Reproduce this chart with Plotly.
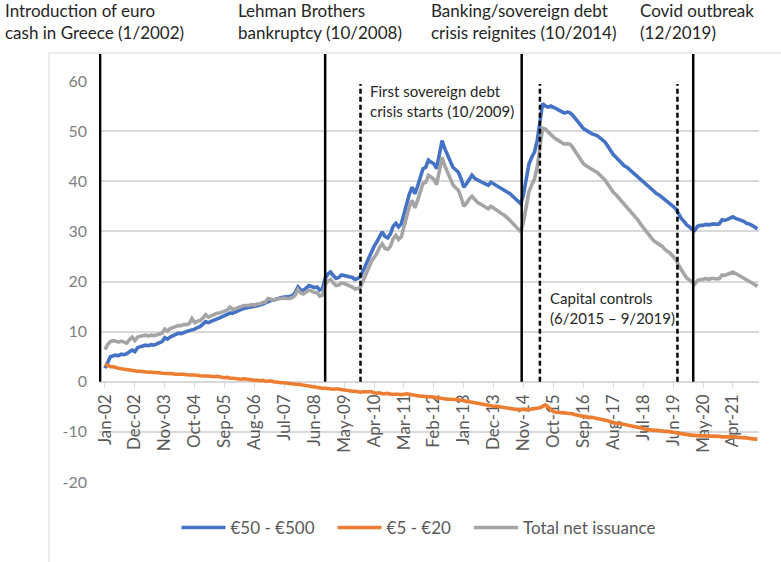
import pandas as pd
import plotly.graph_objects as go

# Monthly net issuance of euro banknotes in Greece (EUR bn), Jan-2002 onwards
BLUE = [
    2.7, 4.0, 5.0, 5.2, 5.3, 5.2, 5.5, 5.4, 5.6, 6.0, 6.3, 6.0,
    6.8, 7.0, 7.2, 7.3, 7.2, 7.4, 7.3, 7.6, 7.8, 8.0, 8.8, 8.5,
    8.9, 9.2, 9.4, 9.7, 9.6, 9.9, 10.0, 10.2, 10.3, 10.5, 10.8, 11.0,
    11.5, 12.0, 11.8, 12.1, 12.4, 12.5, 12.7, 13.0, 13.2, 13.4, 13.7, 13.7,
    14.0, 14.2, 14.4, 14.6, 14.7, 14.8, 15.0, 15.0, 15.2, 15.3, 15.5, 15.8,
    16.0, 16.2, 16.3, 16.5, 16.7, 16.8, 16.9, 16.9, 17.0, 17.2, 17.8, 18.9,
    18.3, 18.2, 18.7, 19.2, 19.0, 18.8, 18.9, 18.3, 18.6, 20.6, 21.5, 21.9,
    21.2, 20.6, 20.8, 21.3, 21.2, 21.1, 21.0, 20.8, 20.4, 20.6, 21.0, 22.2,
    23.5, 24.9, 26.0, 27.0, 27.9, 29.0, 29.9, 29.0, 28.7, 29.5, 31.0, 31.6,
    30.9, 31.5, 33.5, 35.5, 37.5, 38.8, 37.5, 39.0, 40.8, 42.5, 42.8, 44.2,
    43.8, 43.5, 42.5, 45.5, 48.1, 46.5, 45.2, 44.0, 42.8, 42.3, 41.8, 40.5,
    38.8, 39.5, 40.5, 41.2, 40.6, 40.2, 40.0, 39.7, 39.5, 39.2, 39.8, 39.5,
    39.0, 38.8, 38.5, 38.3, 38.0, 37.5, 37.0, 36.5, 36.0, 35.5, 37.5, 40.8,
    43.5, 44.8, 45.8, 48.1, 52.0, 55.5, 55.0, 54.8, 55.0, 54.8, 54.5, 54.2,
    53.9, 53.6, 53.8, 53.7, 53.2, 52.6, 52.0, 51.2, 50.5, 50.1, 49.8, 49.5,
    49.3, 49.1, 48.7, 48.2, 47.8, 47.0, 46.0, 45.3, 44.8, 44.2, 43.5, 43.1,
    42.8, 42.3, 41.9, 41.5, 41.0, 40.5, 40.0, 39.5, 38.8, 38.3, 37.8, 37.5,
    37.2, 36.8, 36.3, 36.0, 35.6, 35.0, 34.5, 33.5, 32.6, 32.0, 31.3, 30.9,
    30.4, 30.2, 31.0, 31.2, 31.2, 31.4, 31.3, 31.4, 31.5, 31.4, 31.5, 32.3,
    32.2, 32.4, 32.6, 32.9, 32.6, 32.4, 32.2, 32.0, 31.6, 31.5, 31.2, 30.8,
    30.5,
]

ORANGE = [
    3.5, 3.2, 3.0, 3.0, 2.8, 2.7, 2.6, 2.5, 2.5, 2.4, 2.3, 2.2,
    2.1, 2.1, 2.0, 2.0, 1.9, 1.9, 1.9, 1.8, 1.8, 1.7, 1.7, 1.6,
    1.7, 1.6, 1.5, 1.5, 1.6, 1.5, 1.4, 1.4, 1.4, 1.3, 1.3, 1.2,
    1.2, 1.1, 1.1, 1.1, 1.0, 1.1, 1.0, 0.9, 0.8, 0.9, 0.7, 0.7,
    0.6, 0.6, 0.5, 0.6, 0.5, 0.4, 0.4, 0.3, 0.3, 0.2, 0.3, 0.1,
    0.1, 0.2, 0.0, -0.1, -0.1, -0.2, -0.2, -0.3, -0.4, -0.4, -0.5, -0.5,
    -0.6, -0.7, -0.8, -0.9, -0.9, -1.0, -1.1, -1.2, -1.3, -1.3, -1.4, -1.5,
    -1.5, -1.4, -1.5, -1.6, -1.6, -1.7, -1.8, -1.9, -1.9, -2.0, -2.1, -2.0,
    -2.0, -2.1, -2.0, -2.2, -2.3, -2.2, -2.4, -2.4, -2.3, -2.5, -2.5, -2.4,
    -2.5, -2.6, -2.5, -2.4, -2.5, -2.6, -2.8, -2.8, -2.9, -2.9, -3.0, -3.0,
    -3.0, -3.1, -3.2, -3.3, -3.3, -3.4, -3.5, -3.5, -3.5, -3.6, -3.6, -3.7,
    -3.8, -3.9, -4.0, -4.2, -4.3, -4.4, -4.5, -4.6, -4.6, -4.7, -4.8, -4.9,
    -4.9, -5.0, -5.0, -5.1, -5.2, -5.3, -5.4, -5.5, -5.6, -5.6, -5.5, -5.6,
    -5.5, -5.5, -5.4, -5.3, -5.2, -4.9, -4.6, -5.0, -5.6, -6.0, -6.1, -6.1,
    -6.2, -6.2, -6.3, -6.3, -6.4, -6.6, -6.7, -6.9, -7.0, -7.0, -7.1, -7.1,
    -7.2, -7.3, -7.4, -7.5, -7.6, -7.8, -8.0, -8.2, -8.3, -8.3, -8.4, -8.5,
    -8.6, -8.7, -8.8, -8.9, -9.0, -9.2, -9.3, -9.5, -9.6, -9.6, -9.7, -9.7,
    -9.8, -9.8, -9.9, -9.9, -10.0, -10.0, -10.1, -10.2, -10.4, -10.5, -10.6, -10.6,
    -10.7, -10.7, -10.8, -10.8, -10.8, -10.8, -10.9, -10.8, -10.9, -10.9, -10.9, -11.0,
    -11.0, -10.9, -11.0, -11.0, -11.0, -11.1, -11.1, -11.2, -11.2, -11.3, -11.4, -11.4,
    -11.5,
]

TOTAL = [
    6.4, 7.4, 8.0, 8.2, 8.1, 7.9, 8.1, 7.9, 7.7, 8.4, 8.9, 8.2,
    8.9, 9.1, 9.2, 9.3, 9.1, 9.3, 9.2, 9.4, 9.6, 9.7, 10.5, 10.1,
    10.6, 10.8, 10.9, 11.2, 11.2, 11.4, 11.4, 11.6, 12.6, 11.8, 12.1, 12.2,
    12.7, 13.4, 12.9, 13.2, 13.4, 13.6, 13.7, 13.9, 14.0, 14.3, 14.9, 14.4,
    14.6, 14.8, 14.9, 15.2, 15.2, 15.2, 15.4, 15.3, 15.5, 15.5, 15.8, 15.9,
    16.6, 16.4, 16.3, 16.4, 16.6, 16.6, 16.7, 16.6, 16.6, 16.8, 17.3, 18.4,
    17.7, 17.5, 17.9, 18.3, 18.1, 17.8, 17.8, 17.1, 17.3, 19.3, 20.1, 20.4,
    19.7, 19.2, 19.3, 19.7, 19.6, 19.4, 19.2, 18.9, 18.5, 18.6, 18.9, 20.2,
    21.5, 22.8, 24.0, 24.8, 25.6, 26.8, 27.5, 26.6, 26.4, 27.0, 28.5, 29.2,
    28.4, 28.9, 31.0, 33.1, 35.0, 36.2, 34.7, 36.2, 37.9, 39.6, 39.8, 41.2,
    40.8, 40.4, 39.3, 42.2, 44.8, 43.1, 41.7, 40.5, 39.3, 38.7, 38.2, 36.8,
    35.0, 35.6, 36.5, 37.0, 36.3, 35.8, 35.5, 35.1, 34.9, 34.5, 35.0, 34.6,
    34.1, 33.8, 33.5, 33.2, 32.8, 32.2, 31.6, 31.0, 30.4, 29.9, 32.0, 35.2,
    38.0, 39.3, 40.4, 42.8, 46.8, 50.6, 50.4, 49.8, 49.4, 48.8, 48.4, 48.1,
    47.7, 47.4, 47.5, 47.4, 46.8, 46.0, 45.3, 44.3, 43.5, 43.1, 42.7, 42.4,
    42.1, 41.8, 41.3, 40.7, 40.2, 39.4, 38.5, 37.8, 37.3, 36.7, 35.9, 35.3,
    34.8, 34.1, 33.5, 33.0, 32.3, 31.5, 30.8, 30.0, 29.2, 28.7, 28.1, 27.8,
    27.4, 27.0, 26.4, 26.1, 25.6, 25.0, 24.4, 23.3, 22.2, 21.5, 20.7, 20.3,
    19.7, 19.5, 20.2, 20.4, 20.4, 20.6, 20.4, 20.6, 20.6, 20.5, 20.6, 21.3,
    21.2, 21.5, 21.6, 21.9, 21.6, 21.3, 21.1, 20.8, 20.4, 20.2, 19.8, 19.4,
    19.0,
]

MONTHS = pd.date_range("2002-01-01", periods=len(BLUE), freq="MS").strftime("%b-%y").tolist()

TICK_LABELS = [
    "Jan-02", "Dec-02", "Nov-03", "Oct-04", "Sep-05", "Aug-06", "Jul-07",
    "Jun-08", "May-09", "Apr-10", "Mar-11", "Feb-12", "Jan-13", "Dec-13",
    "Nov-14", "Oct-15", "Sep-16", "Aug-17", "Jul-18", "Jun-19", "May-20", "Apr-21",
]

Y_TICKS = [-20, -10, 0, 10, 20, 30, 40, 50, 60]
Y_TICK_TEXT = ["-20", "-10", "0", "10", "20", "30", "40", "50", "60"]

SERIES = [
    ("€50 - €500", BLUE, "#4472C4"),
    ("€5 - €20", ORANGE, "#ED7D31"),
    ("Total net issuance", TOTAL, "#A5A5A5"),
]

# Event markers: category-index positions on the month axis
EVENT_SOLID = [-1.8, 81, 153.3, 216.4]
EVENT_DASHED = [94, 160, 210.6]

Y_MIN, Y_MAX = -20, 60
W, H = 781, 562
M_L, M_R, M_T, M_B = 99, 22, 81, 80
PLOT_W = W - M_L - M_R
PLOT_H = H - M_T - M_B
FONT = "Lato, 'Open Sans', Arial, sans-serif"
PAD = "\u00a0\u00a0\u00a0"  # breathing room after legend entries


def yfrac(v):
    return (v - Y_MIN) / (Y_MAX - Y_MIN)


def px_x(px):
    return (px - M_L) / PLOT_W


def px_y(py):
    return (H - M_B - py) / PLOT_H


fig = go.Figure()
for name, values, color in SERIES:
    fig.add_trace(go.Scatter(
        x=MONTHS, y=values, name=name + PAD, mode="lines",
        line=dict(color=color, width=3.6),
    ))

shapes = []
for xv in EVENT_SOLID:
    shapes.append(dict(type="line", xref="x", yref="paper", x0=xv, x1=xv,
                       y0=yfrac(0), y1=yfrac(65.4),
                       line=dict(color="black", width=2.5)))
for xv in EVENT_DASHED:
    shapes.append(dict(type="line", xref="x", yref="paper", x0=xv, x1=xv,
                       y0=yfrac(0), y1=yfrac(59.4),
                       line=dict(color="black", width=2.5, dash="5px,3px")))
# outer chart-area frame
shapes.append(dict(type="rect", xref="paper", yref="paper",
                   x0=px_x(49), x1=px_x(790), y0=px_y(575), y1=px_y(53),
                   line=dict(color="#d9d9d9", width=1), layer="below"))

annotations = []
top_labels = [
    ("Introduction of euro<br>cash in Greece (1/2002)", 3),
    ("Lehman Brothers<br>bankruptcy (10/2008)", 236),
    ("Banking/sovereign debt<br>crisis reignites (10/2014)", 429),
    ("Covid outbreak<br>(12/2019)", 638),
]
for text, px in top_labels:
    annotations.append(dict(text=text, xref="paper", yref="paper",
                            x=px_x(px), y=px_y(21), xanchor="left", yanchor="middle",
                            align="left", showarrow=False,
                            font=dict(family=FONT, size=17, color="#262626")))
inner_labels = [
    ("First sovereign debt<br>crisis starts (10/2009)", 368, 101),
    ("Capital controls<br>(6/2015 – 9/2019)", 548, 308),
]
for text, px, py in inner_labels:
    annotations.append(dict(text=text, xref="paper", yref="paper",
                            x=px_x(px), y=px_y(py), xanchor="left", yanchor="middle",
                            align="left", showarrow=False,
                            font=dict(family=FONT, size=15, color="#262626")))

fig.update_layout(
    width=W, height=H,
    margin=dict(l=M_L, r=M_R, t=M_T, b=M_B),
    paper_bgcolor="white", plot_bgcolor="white",
    font=dict(family=FONT, color="#595959"),
    shapes=shapes, annotations=annotations,
    showlegend=True,
    legend=dict(orientation="h", x=px_x(425), xanchor="center",
                y=px_y(528), yanchor="middle",
                font=dict(family=FONT, size=17, color="#595959"),
                itemwidth=44, bgcolor="rgba(0,0,0,0)"),
    xaxis=dict(
        type="category", range=[-2.2, 240.6],
        tickmode="array", tickvals=TICK_LABELS, ticktext=TICK_LABELS,
        tickangle=-90, anchor="free", position=yfrac(0),
        layer="below traces",
        showgrid=False, zeroline=False,
        showline=True, linecolor="#d9d9d9", linewidth=1.5,
        ticks="outside", ticklen=5, tickcolor="#d9d9d9", tickwidth=1,
        tickfont=dict(family=FONT, size=17, color="#595959"),
    ),
    yaxis=dict(
        range=[Y_MIN, Y_MAX], tickmode="array",
        tickvals=Y_TICKS, ticktext=Y_TICK_TEXT,
        layer="below traces",
        showgrid=True, gridcolor="#d9d9d9", gridwidth=1.5,
        zeroline=False, showline=False,
        ticklabelstandoff=11,
        tickfont=dict(family=FONT, size=16, color="#7f7f7f"),
    ),
)

fig.write_html("out.html")
